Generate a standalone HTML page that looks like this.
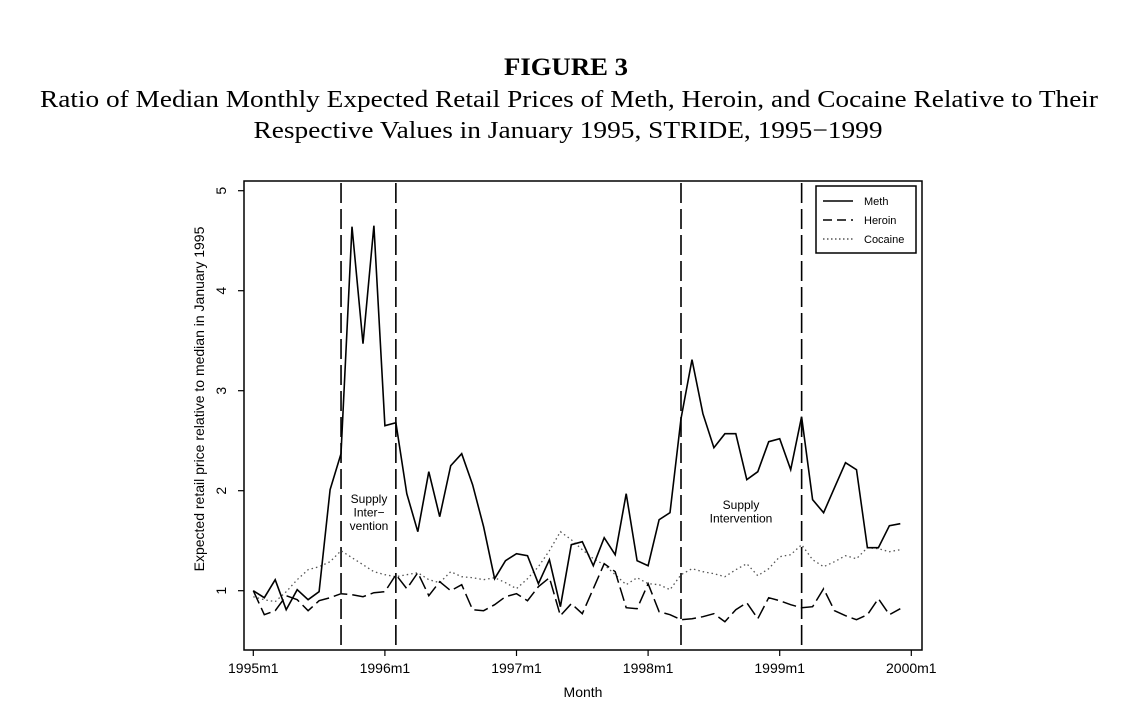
<!DOCTYPE html>
<html><head><meta charset="utf-8"><style>
html,body{margin:0;padding:0;background:#fff;}
svg{display:block;}
</style></head><body>
<svg width="1139" height="717" viewBox="0 0 1139 717" xmlns="http://www.w3.org/2000/svg">
<text x="566" y="75" text-anchor="middle" font-family="Liberation Serif, serif" font-weight="bold" font-size="25" textLength="124" lengthAdjust="spacingAndGlyphs">FIGURE 3</text>
<text x="569" y="107" text-anchor="middle" font-family="Liberation Serif, serif" font-size="24" textLength="1058" lengthAdjust="spacingAndGlyphs">Ratio of Median Monthly Expected Retail Prices of Meth, Heroin, and Cocaine Relative to Their</text>
<text x="568" y="138" text-anchor="middle" font-family="Liberation Serif, serif" font-size="24" textLength="629" lengthAdjust="spacingAndGlyphs">Respective Values in January 1995, STRIDE, 1995−1999</text>
<g id="plot" font-family="Liberation Sans, sans-serif"></g>
</svg>
<script>
const months = Array.from({length:60},(_,i)=>i);
const meth = [1.0,0.93,1.11,0.81,1.01,0.91,0.99,2.01,2.37,4.64,3.47,4.65,2.65,2.68,1.97,1.59,2.19,1.74,2.25,2.37,2.06,1.64,1.12,1.30,1.37,1.35,1.07,1.31,0.84,1.46,
1.49,1.25,1.53,1.36,1.97,1.30,1.25,1.71,1.78,2.72,3.31,2.77,2.43,2.57,2.57,2.11,2.19,2.49,2.52,2.21,2.74,1.91,1.78,2.03,2.28,2.21,1.43,1.43,1.65,1.67];
const heroin = [1.0,0.76,0.80,0.95,0.91,0.80,0.90,0.93,0.97,0.96,0.94,0.98,0.99,1.16,1.02,1.18,0.95,1.09,1.0,1.06,0.81,0.80,0.86,0.94,0.97,0.90,1.04,1.13,0.75,0.87,
0.77,1.02,1.27,1.19,0.83,0.82,1.07,0.79,0.76,0.71,0.72,0.74,0.77,0.69,0.81,0.88,0.72,0.93,0.90,0.86,0.83,0.84,1.02,0.80,0.75,0.71,0.76,0.92,0.76,0.82];
const cocaine = [0.94,0.91,0.89,0.99,1.11,1.21,1.24,1.29,1.40,1.33,1.26,1.19,1.16,1.14,1.16,1.18,1.11,1.08,1.19,1.14,1.13,1.11,1.13,1.08,1.02,1.12,1.24,1.40,1.59,1.51,
1.41,1.32,1.26,1.16,1.06,1.13,1.07,1.06,1.01,1.16,1.22,1.19,1.17,1.14,1.21,1.27,1.15,1.22,1.34,1.36,1.46,1.31,1.24,1.29,1.35,1.32,1.43,1.42,1.39,1.41];
const yTicks = [1,2,3,4,5];
const xTickLabels = ["1995m1","1996m1","1997m1","1998m1","1999m1","2000m1"];
const interventions = [8,13,39,50];

const NS="http://www.w3.org/2000/svg";
const g=document.getElementById('plot');
const X0=253.3, PXM=131.6/12, Y1=590.7, PXU=100;
const xs=m=>X0+m*PXM, ys=v=>Y1-(v-1)*PXU;
function el(t,a,parent){const e=document.createElementNS(NS,t);for(const k in a)e.setAttribute(k,a[k]);(parent||g).appendChild(e);return e;}

const frame=el('rect',{x:244,y:181,width:678,height:469,fill:'none',stroke:'#000','stroke-width':1.5});



yTicks.forEach(v=>{
  const t=el('line',{x1:238,x2:244,y1:ys(v),y2:ys(v),stroke:'#000','stroke-width':1.2});
  
  
  const l=el('text',{x:0,y:0,'font-size':14,'text-anchor':'middle',transform:`translate(226,${ys(v)}) rotate(-90)`});
  l.textContent=v;
  
  
});
xTickLabels.forEach((s,i)=>{
  const x=xs(i*12);
  const t=el('line',{x1:x,x2:x,y1:650,y2:656,stroke:'#000','stroke-width':1.2});
  
  
  const l=el('text',{x:x,y:673,'font-size':14,'text-anchor':'middle'});
  l.textContent=s;
  
  
});
const xt=el('text',{x:583,y:697,'font-size':14,'text-anchor':'middle'});
xt.textContent='Month';


const yt=el('text',{x:0,y:0,'font-size':14,'text-anchor':'middle',transform:'translate(204,399) rotate(-90)'});
yt.textContent='Expected retail price relative to median in January 1995';



interventions.forEach(m=>{
  const l=el('line',{x1:xs(m),x2:xs(m),y1:183,y2:650,stroke:'#000','stroke-width':1.6,'stroke-dasharray':'20,6'});
  
  
});

function series(data,name,dash,w,col){
  const d=data.map((v,i)=>(i?'L':'M')+xs(months[i]).toFixed(1)+','+ys(v).toFixed(1)).join('');
  const p=el('path',{d:d,fill:'none',stroke:col,'stroke-width':w,'stroke-dasharray':dash,'stroke-linejoin':'miter'});
  
  
}
series(cocaine,'cocaine-line','1.5,3',1.3,'#555');
series(heroin,'heroin-line','14,5',1.5,'#000');
series(meth,'meth-line','none',1.6,'#000');

function label(lines,cx,y0,name){
  const t=el('text',{x:cx,y:y0,'font-size':12,'text-anchor':'middle'});
  
  
  lines.forEach((s,i)=>{const sp=el('tspan',{x:cx,dy:i?13.5:0},t);sp.textContent=s;});
}
label(['Supply','Inter−','vention'],369,503,'intervention-label-1');
label(['Supply','Intervention'],741,509,'intervention-label-2');

const lg=el('g',{});


el('rect',{x:816,y:186,width:100,height:67,fill:'#fff',stroke:'#000','stroke-width':1.5},lg);
[['Meth','none','#000'],['Heroin','9,5','#000'],['Cocaine','1.5,2.5','#555']].forEach((it,i)=>{
  const y=201+i*19;
  const ln=el('line',{x1:823,x2:853,y1:y,y2:y,stroke:it[2],'stroke-width':1.4,'stroke-dasharray':it[1]},lg);
  
  
  const t=el('text',{x:864,y:y+4,'font-size':11},lg);
  t.textContent=it[0];
  
  
});
</script>
</body></html>
